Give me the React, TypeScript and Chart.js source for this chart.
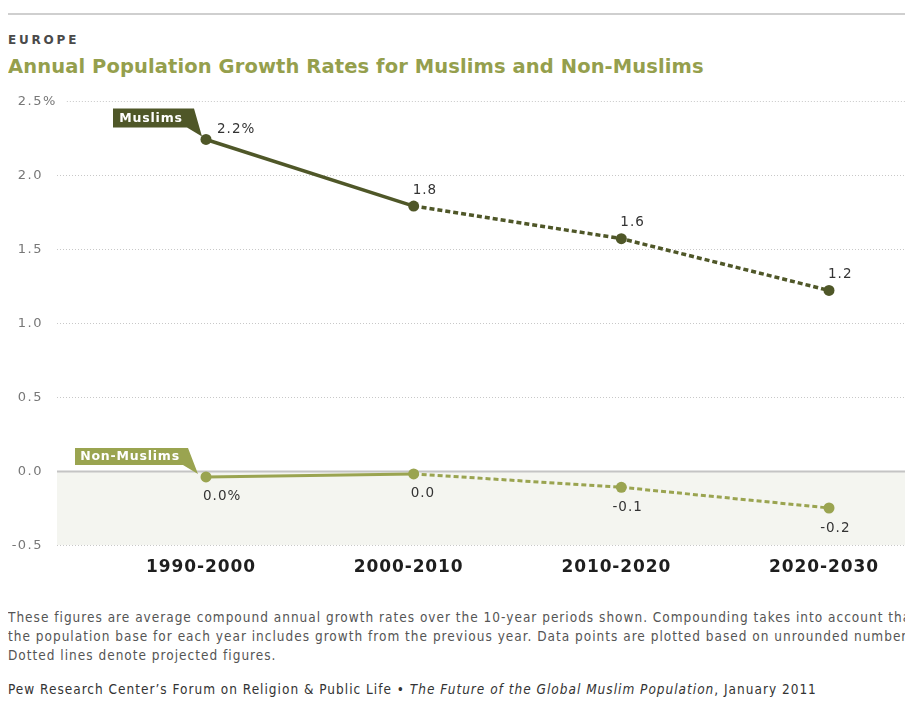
import React, { useEffect, useRef } from "react";
import { Chart, registerables } from "chart.js";
Chart.register(...registerables);

const categories = ["1990-2000", "2000-2010", "2010-2020", "2020-2030"];
const muslimValues = [2.24, 1.79, 1.57, 1.22];
const nonMuslimValues = [-0.04, -0.02, -0.11, -0.25];
const muslimLabels = ["2.2%", "1.8", "1.6", "1.2"];
const nonMuslimLabels = ["0.0%", "0.0", "-0.1", "-0.2"];
const yTicks = [2.5, 2.0, 1.5, 1.0, 0.5, 0.0, -0.5];
const yTickLabels = ["2.5%", "2.0", "1.5", "1.0", "0.5", "0.0", "-0.5"];
const seriesNames = ["Muslims", "Non-Muslims"];

const MUSLIM_COLOR = "#4f5728";
const NON_COLOR = "#9aa450";
const FONT = "'DejaVu Sans', Verdana, sans-serif";

function drawSigned(ctx: CanvasRenderingContext2D, label: string, x: number, y: number) {
  let body = label;
  let sign = "";
  if (body.startsWith("-")) {
    sign = "-";
    body = body.slice(1);
  }
  ctx.textAlign = "left";
  ctx.fillText(body, x, y);
  if (sign) {
    const w = ctx.measureText(sign).width;
    ctx.fillText(sign, x - w, y);
  }
}

const decorPlugin = {
  id: "decor",
  beforeDatasetsDraw(chart: any) {
    const ctx: CanvasRenderingContext2D = chart.ctx;
    const ys = chart.scales.y;
    const xs = chart.scales.x;
    const W = chart.width;
    const labelRight = 35;
    const gridLeft = 49;
    ctx.save();
    const y0 = ys.getPixelForValue(0);
    const yMin = ys.getPixelForValue(-0.5);
    ctx.fillStyle = "#f4f5f0";
    ctx.fillRect(gridLeft, y0, W - gridLeft, yMin - y0);
    ctx.font = `13px ${FONT}`;
    (ctx as any).letterSpacing = "1.5px";
    ctx.textBaseline = "middle";
    yTicks.forEach((v, i) => {
      const py = Math.round(ys.getPixelForValue(v)) + 0.5;
      const lab = yTickLabels[i];
      const hasPct = lab.endsWith("%");
      const num = hasPct ? lab.slice(0, -1) : lab;
      ctx.fillStyle = "#777";
      ctx.textAlign = "right";
      ctx.fillText(num, labelRight, py);
      let start = gridLeft;
      if (hasPct) {
        ctx.textAlign = "left";
        ctx.fillText("%", labelRight, py);
        start = labelRight + ctx.measureText("%").width + 10;
      }
      ctx.beginPath();
      if (v === 0) {
        ctx.strokeStyle = "#c4c4c4";
        ctx.lineWidth = 2;
        ctx.setLineDash([]);
      } else {
        ctx.strokeStyle = "#c8c8c8";
        ctx.lineWidth = 1;
        ctx.setLineDash([1, 2]);
      }
      ctx.moveTo(start, py);
      ctx.lineTo(W, py);
      ctx.stroke();
    });
    ctx.setLineDash([]);
    ctx.font = `bold 17px ${FONT}`;
    (ctx as any).letterSpacing = "0.9px";
    ctx.fillStyle = "#1e1e1e";
    ctx.textAlign = "center";
    categories.forEach((c, i) => {
      ctx.fillText(c, xs.getPixelForValue(i) - 5, yMin + 23);
    });
    const tags = [
      { ds: 0, color: MUSLIM_COLOR, box: [-93, -31, -12, -12], tip: [-4, -3], inner: [-19, -12] },
      { ds: 1, color: NON_COLOR, box: [-131, -29, -18, -12], tip: [-8, -3], inner: [-23, -12] },
    ];
    tags.forEach((t) => {
      const p = chart.getDatasetMeta(t.ds).data[0];
      const px = p.x;
      const py = p.y;
      const [l, tp, r, b] = t.box;
      ctx.fillStyle = t.color;
      ctx.beginPath();
      ctx.moveTo(px + l, py + tp);
      ctx.lineTo(px + r, py + tp);
      ctx.lineTo(px + t.tip[0], py + t.tip[1]);
      ctx.lineTo(px + t.inner[0], py + t.inner[1]);
      ctx.lineTo(px + l, py + b);
      ctx.closePath();
      ctx.fill();
      ctx.font = `bold 12.5px ${FONT}`;
      (ctx as any).letterSpacing = "0.8px";
      ctx.fillStyle = "#ffffff";
      ctx.textAlign = "center";
      ctx.textBaseline = "middle";
      ctx.fillText(seriesNames[t.ds], px + (l + t.inner[0]) / 2 + 1, py + (tp + b) / 2 + 0.5);
    });
    ctx.restore();
  },
  afterDatasetsDraw(chart: any) {
    const ctx: CanvasRenderingContext2D = chart.ctx;
    ctx.save();
    ctx.font = `13.5px ${FONT}`;
    (ctx as any).letterSpacing = "1px";
    ctx.fillStyle = "#333";
    ctx.textBaseline = "middle";
    chart.getDatasetMeta(0).data.forEach((p: any, i: number) => {
      const dx = i === 0 ? 11 : -1;
      const dy = i === 0 ? -10 : -16;
      drawSigned(ctx, muslimLabels[i], p.x + dx, p.y + dy);
    });
    chart.getDatasetMeta(1).data.forEach((p: any, i: number) => {
      drawSigned(ctx, nonMuslimLabels[i], p.x - 3, p.y + 20);
    });
    ctx.restore();
  },
};

export default function App() {
  const ref = useRef<HTMLCanvasElement>(null);
  useEffect(() => {
    if (!ref.current) return;
    const dashAfterFirst = (c: any) => (c.p0DataIndex >= 1 ? [5, 3] : []);
    const chart = new Chart(ref.current, {
      type: "line",
      data: {
        labels: categories,
        datasets: [
          {
            label: seriesNames[0],
            data: muslimValues,
            borderColor: MUSLIM_COLOR,
            backgroundColor: MUSLIM_COLOR,
            borderWidth: 3.5,
            pointRadius: 5.5,
            pointBorderWidth: 0,
            pointBackgroundColor: MUSLIM_COLOR,
            tension: 0,
            clip: false,
            segment: { borderDash: dashAfterFirst },
          } as any,
          {
            label: seriesNames[1],
            data: nonMuslimValues,
            borderColor: NON_COLOR,
            backgroundColor: NON_COLOR,
            borderWidth: 3,
            pointRadius: 5.5,
            pointBorderWidth: 0,
            pointBackgroundColor: NON_COLOR,
            tension: 0,
            clip: false,
            segment: { borderDash: dashAfterFirst },
          } as any,
        ],
      },
      options: {
        animation: false,
        responsive: false,
        layout: { padding: { left: 198, right: 84, top: 21, bottom: 55 } },
        plugins: {
          legend: { display: false },
          tooltip: { enabled: false },
          title: { display: false },
        },
        scales: {
          x: { type: "category", display: false, offset: false },
          y: { type: "linear", display: false, min: -0.5, max: 2.5 },
        },
      },
      plugins: [decorPlugin],
    });
    return () => chart.destroy();
  }, []);

  const abs = (top: number): React.CSSProperties => ({ position: "absolute", left: 0, top, whiteSpace: "nowrap" });
  const foot: React.CSSProperties = { fontFamily: "'DejaVu Sans Condensed', sans-serif", fontSize: 13.5, lineHeight: "19px", letterSpacing: "1px" };

  return (
    <div style={{ position: "relative", width: 905, height: 697, overflow: "hidden", fontFamily: FONT }}>
      <div style={{ position: "absolute", left: 0, top: 5, width: 905, height: 2, background: "#cfcfcf" }} />
      <div style={{ ...abs(26), fontSize: 12, lineHeight: "12px", fontWeight: "bold", letterSpacing: "2.8px", color: "#4a4a4a" }}>
        EUROPE
      </div>
      <div style={{ ...abs(49), fontSize: 19.5, lineHeight: "20px", fontWeight: "bold", letterSpacing: "0.1px", color: "#959f4d" }}>
        Annual Population Growth Rates for Muslims and Non-Muslims
      </div>
      <canvas ref={ref} width={905} height={520} style={{ position: "absolute", left: 0, top: 72, width: 905, height: 520 }} />
      <div style={{ ...abs(600), ...foot, color: "#555" }}>
        <div>These figures are average compound annual growth rates over the 10-year periods shown. Compounding takes into account that</div>
        <div>the population base for each year includes growth from the previous year. Data points are plotted based on unrounded numbers.</div>
        <div>Dotted lines denote projected figures.</div>
      </div>
      <div style={{ ...abs(672), ...foot, color: "#333" }}>
        Pew Research Center’s Forum on Religion &amp; Public Life • <i>The Future of the Global Muslim Population</i>, January 2011
      </div>
    </div>
  );
}
